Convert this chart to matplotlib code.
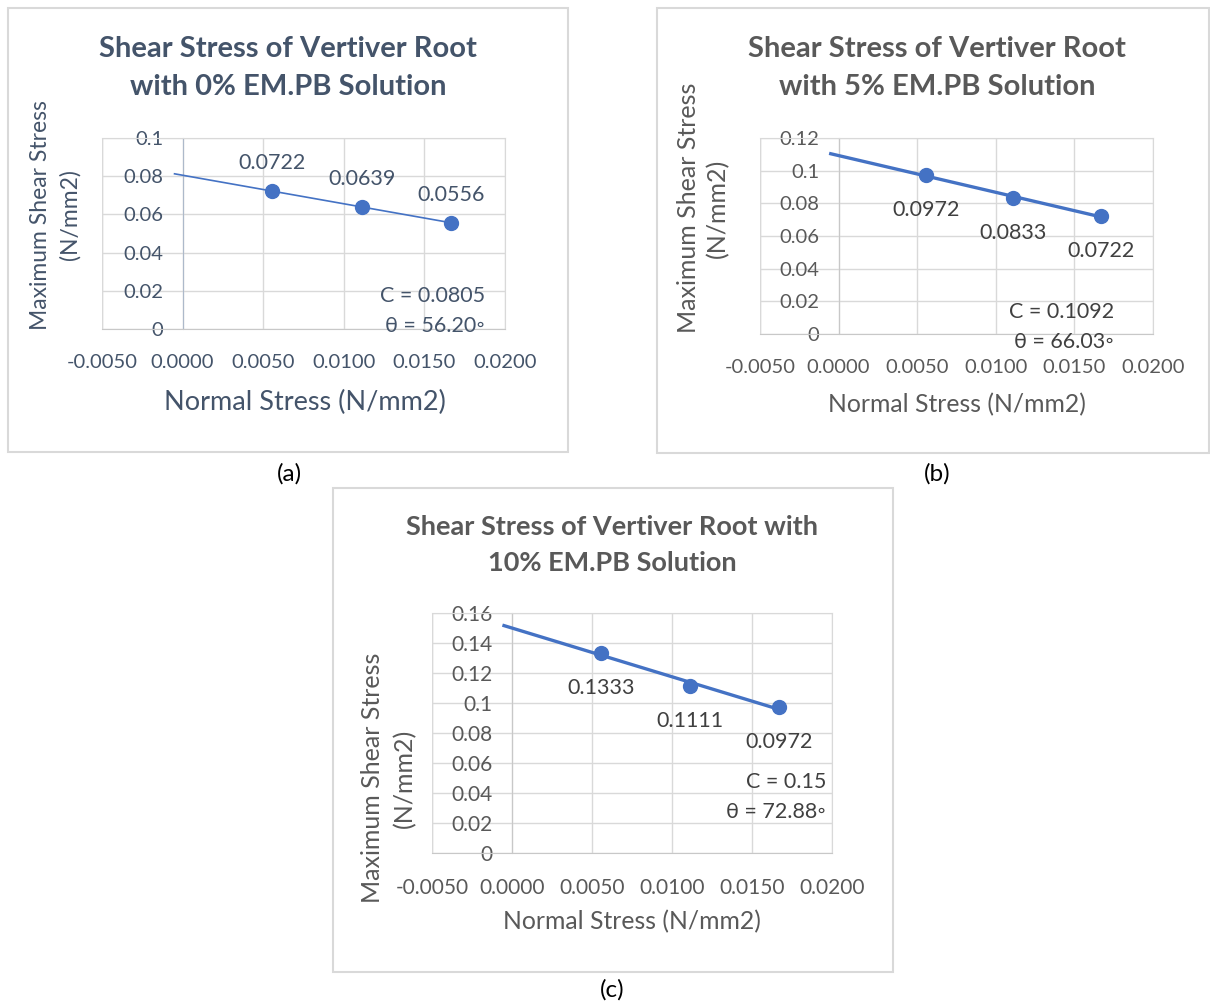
import numpy as np
import matplotlib
matplotlib.use("Agg")
import matplotlib.pyplot as plt
from matplotlib.patches import Rectangle

plt.rcParams['font.family'] = ['Lato', 'DejaVu Sans']

W, H = 1210, 1002

# data
normal_stress = [0.00556, 0.01111, 0.01667]
shear_0 = [0.0722, 0.0639, 0.0556]
shear_5 = [0.0972, 0.0833, 0.0722]
shear_10 = [0.1333, 0.1111, 0.0972]
cohesion = ['0.0805', '0.1092', '0.15']
friction_angle = ['56.20', '66.03', '72.88']
titles = ['Shear Stress of Vertiver Root\nwith 0% EM.PB Solution',
          'Shear Stress of Vertiver Root\nwith 5% EM.PB Solution',
          'Shear Stress of Vertiver Root with\n10% EM.PB Solution']
captions = ['(a)', '(b)', '(c)']
x_ticks = [-0.005, 0.0, 0.005, 0.01, 0.015, 0.02]
y_tops = [0.1, 0.12, 0.16]


def px(x, y):
    return x / W, 1 - y / H


fig = plt.figure(figsize=(W / 100, H / 100), dpi=100)


def frame(x0, y0, x1, y1):
    fx0, fy1 = px(x0, y1)
    fx1, fy0 = px(x1, y0)
    fig.patches.append(Rectangle((fx0, fy1), fx1 - fx0, fy0 - fy1, transform=fig.transFigure,
                                 fill=False, edgecolor='#D9D9D9', linewidth=1.5))


def panel(box, y_values, c, ang, ylim, title, txt_col, tick_col, lw, below,
          title_pos, xlabel_pos, ylabel_pos, ctext_pos, size):
    x0, y0, x1, y1 = box  # pixel extent of plot area
    l, b = px(x0, y1)
    r, t = px(x1, y0)
    ax = fig.add_axes([l, b, r - l, t - b])
    ax.set_xlim(-0.005, 0.02)
    ax.set_ylim(0, ylim)
    ax.set_xticks(x_ticks)
    ax.set_xticklabels([f'{v:.4f}' for v in x_ticks])
    yt = np.arange(0, ylim + 1e-9, 0.02)
    ax.set_yticks(yt)
    ax.set_yticklabels(['0' if v == 0 else f'{v:.2f}'.rstrip('0') for v in yt])
    ax.grid(True, color='#D9D9D9', linewidth=1.0)
    ax.set_axisbelow(True)
    for s in ['top', 'right']:
        ax.spines[s].set_color('#D9D9D9')
    ax.spines['left'].set_position(('data', 0))
    ax.spines['left'].set_color('#ADB9CA' if lw < 2 else '#C8C8C8')
    ax.spines['bottom'].set_color('#C8C8C8')
    ax.tick_params(axis='both', length=0, labelsize=size['tick'], colors=tick_col)
    ax.tick_params(axis='x', pad=18)
    ax.tick_params(axis='y', pad=14)
    ax.axvline(-0.005, color='#D9D9D9', linewidth=1.0, zorder=0)

    # trendline extended back to -0.0005
    slope, inter = np.polyfit(normal_stress, y_values, 1)
    xl = np.array([-0.0005, normal_stress[-1]])
    ax.plot(xl, slope * xl + inter, color='#4472C4', linewidth=lw, zorder=3)
    ax.plot(normal_stress, y_values, 'o', color='#4472C4', markersize=10, zorder=4)
    for xv, yv in zip(normal_stress, y_values):
        if below:
            ax.annotate(f'{yv:.4f}', (xv, yv), xytext=(0, -18), textcoords='offset points',
                        ha='center', va='top', fontsize=size['label'], color=txt_col)
        else:
            ax.annotate(f'{yv:.4f}', (xv, yv), xytext=(0, 13), textcoords='offset points',
                        ha='center', va='bottom', fontsize=size['label'], color=txt_col)

    fig.text(*px(*ctext_pos), f'C = {c}\nθ = {ang}◦', ha='right', va='center',
             fontsize=size['label'], color=txt_col, linespacing=1.6)
    fig.text(*px(*title_pos), title, ha='center', va='center', fontsize=size['title'],
             fontweight='bold', color=size['title_col'], linespacing=size['title_ls'])
    fig.text(*px(*xlabel_pos), 'Normal Stress (N/mm2)', ha='center', va='center',
             fontsize=size['axis'], color=size['axis_col'])
    # y title drawn as two separate lines
    (yx1, yx2), yc = ylabel_pos
    fig.text(*px(yx1, yc), 'Maximum Shear Stress', ha='center', va='center',
             rotation=90, fontsize=size['yaxis'], color=size['axis_col'])
    fig.text(*px(yx2, yc), '(N/mm2)', ha='center', va='center',
             rotation=90, fontsize=size['yaxis'], color=size['axis_col'])
    return ax


size_a = dict(tick=14.5, label=15.5, title=21, title_ls=1.6, axis=19.5, yaxis=16.5,
              title_col='#44546A', axis_col='#44546A')
size_b = dict(tick=14.5, label=15.5, title=21, title_ls=1.6, axis=17.8, yaxis=18,
              title_col='#595959', axis_col='#595959')
size_c = dict(tick=15, label=15.5, title=19.5, title_ls=1.6, axis=17.8, yaxis=18,
              title_col='#595959', axis_col='#595959')

frame(8, 8, 568, 452)
frame(657, 8, 1209, 453)
frame(333, 488, 893, 972)

panel((102, 138, 505, 329), shear_0, cohesion[0], friction_angle[0], y_tops[0], titles[0],
      '#44546A', '#44546A', 1.2, False, (288, 68), (305, 402), ((41, 70), 215), (485, 311), size_a)
panel((760, 138, 1153, 334), shear_5, cohesion[1], friction_angle[1], y_tops[1], titles[1],
      '#404040', '#595959', 2.4, True, (937, 68), (957, 405), ((688, 718), 208), (1114, 327), size_b)
panel((432, 613, 832, 853), shear_10, cohesion[2], friction_angle[2], y_tops[2], titles[2],
      '#404040', '#595959', 2.4, True, (612, 545), (632, 922), ((373, 405), 778), (826, 797), size_c)

for cap, (cx, cy) in zip(captions, [(289, 474), (937, 474), (612, 990)]):
    fig.text(*px(cx, cy), cap, ha='center', va='center', fontsize=17.5, color='black')

fig.savefig('out.png', dpi=100, facecolor='white')
